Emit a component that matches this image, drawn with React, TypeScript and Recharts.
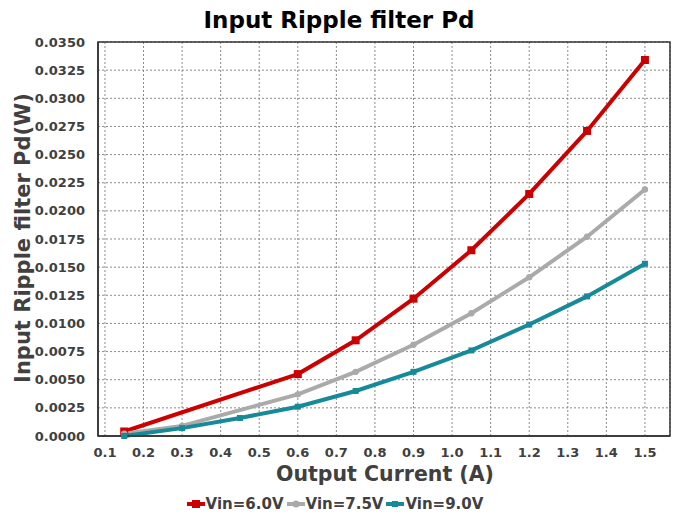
import React from 'react';
import { LineChart, Line, XAxis, YAxis, CartesianGrid, Legend, ReferenceArea } from 'recharts';

const current = [0.15, 0.3, 0.45, 0.6, 0.75, 0.9, 1.05, 1.2, 1.35, 1.5];
const vin60 = [0.0004, null, null, 0.0055, 0.0085, 0.0122, 0.0165, 0.0215, 0.0271, 0.0334];
const vin75 = [0.0002, 0.0009, null, 0.0037, 0.0057, 0.0081, 0.0109, 0.0141, 0.0177, 0.0219];
const vin90 = [0.0, 0.0007, 0.0016, 0.0026, 0.004, 0.0057, 0.0076, 0.0099, 0.0124, 0.0153];
const seriesNames = ['Vin=6.0V', 'Vin=7.5V', 'Vin=9.0V'];
const xTicks = [0.1, 0.2, 0.3, 0.4, 0.5, 0.6, 0.7, 0.8, 0.9, 1.0, 1.1, 1.2, 1.3, 1.4, 1.5];
const yTicks = [0, 0.0025, 0.005, 0.0075, 0.01, 0.0125, 0.015, 0.0175, 0.02, 0.0225, 0.025, 0.0275, 0.03, 0.0325, 0.035];

const title = 'Input Ripple filter Pd';
const xLabel = 'Output Current (A)';
const yLabel = 'Input Ripple filter Pd(W)';

const colors = ['#cc0000', '#aaaaaa', '#168a98'];
const FONT = '"DejaVu Sans", sans-serif';
const TEXT = '#404040';

const data = current.map((c, i) => ({ current: c, v60: vin60[i], v75: vin75[i], v90: vin90[i] }));

const makeDot = (kind: number) => (props: any) => {
  const { cx, cy, value, index } = props;
  if (value === null || value === undefined || cx == null || cy == null) return <g key={`d${kind}-${index}`} />;
  if (kind === 0) return <rect key={`d${kind}-${index}`} x={cx - 4} y={cy - 4} width={8} height={8} fill={colors[0]} />;
  if (kind === 1) return <circle key={`d${kind}-${index}`} cx={cx} cy={cy} r={3.2} fill={colors[1]} />;
  return <rect key={`d${kind}-${index}`} x={cx - 3} y={cy - 3} width={6} height={6} fill={colors[2]} />;
};

const LegendContent = () => (
  <div style={{ display: 'flex', justifyContent: 'center', alignItems: 'center', height: 24, fontFamily: FONT, fontWeight: 'bold', fontSize: 15, color: TEXT }}>
    {seriesNames.map((n, i) => (
      <div key={n} style={{ display: 'flex', alignItems: 'center', marginRight: i < 2 ? 3 : 0 }}>
        <svg width={18} height={12} style={{ marginRight: 1 }}>
          <line x1={0} y1={6} x2={18} y2={6} stroke={colors[i]} strokeWidth={4} />
          {i === 0 && <rect x={5} y={2} width={8} height={8} fill={colors[i]} />}
          {i === 1 && <circle cx={9} cy={6} r={3.5} fill={colors[i]} />}
          {i === 2 && <rect x={6} y={3} width={6} height={6} fill={colors[i]} />}
        </svg>
        <span>{n}</span>
      </div>
    ))}
  </div>
);

const YLabel = (props: any) => {
  const vb = props.viewBox || {};
  const cy = (vb.y ?? 42) + (vb.height ?? 394) / 2 - 1;
  return (
    <text x={30} y={cy} transform={`rotate(-90, 30, ${cy})`} textAnchor="middle" fill={TEXT} fontFamily={FONT} fontWeight="bold" fontSize={21}>
      {yLabel}
    </text>
  );
};

const XLabel = (props: any) => {
  const vb = props.viewBox || {};
  const cx = (vb.x ?? 98) + (vb.width ?? 572) / 2 + 1;
  return (
    <text x={cx} y={481} textAnchor="middle" fill={TEXT} fontFamily={FONT} fontWeight="bold" fontSize={20.5}>
      {xLabel}
    </text>
  );
};

export default function App() {
  return (
    <div style={{ position: 'absolute', left: 0, top: 0, width: 678, height: 516, background: '#fff' }}>
      <div style={{ position: 'absolute', left: 0, top: 7, width: 678, textAlign: 'center', fontFamily: FONT, fontWeight: 'bold', fontSize: 23, lineHeight: 'normal', color: '#000' }}>
        {title}
      </div>
      <LineChart width={678} height={516} data={data} margin={{ top: 42, right: 8, left: 0, bottom: 0 }}>
        <CartesianGrid stroke="#8a8a8a" strokeDasharray="2 2" />
        <XAxis
          dataKey="current"
          type="number"
          domain={[0.082, 1.565]}
          ticks={xTicks}
          tickFormatter={(v: number) => v.toFixed(1)}
          tickLine={false}
          axisLine={{ stroke: '#333', strokeWidth: 1.5 }}
          tick={{ fill: TEXT, fontFamily: FONT, fontWeight: 'bold', fontSize: 13 }}
          tickMargin={6}
          height={56}
          allowDataOverflow
          label={<XLabel />}
        />
        <YAxis
          type="number"
          domain={[0, 0.035]}
          ticks={yTicks}
          tickFormatter={(v: number) => v.toFixed(4)}
          tickLine={false}
          axisLine={{ stroke: '#333', strokeWidth: 1.5 }}
          tick={{ fill: TEXT, fontFamily: FONT, fontWeight: 'bold', fontSize: 13 }}
          tickMargin={7}
          width={98}
          interval={0}
          label={<YLabel />}
        />
        <ReferenceArea x1={0.082} x2={1.565} y1={0} y2={0.035} fill="none" stroke="#333" strokeWidth={1.5} ifOverflow="visible" />
        <Legend verticalAlign="bottom" height={24} content={<LegendContent />} />
        <Line dataKey="v60" name={seriesNames[0]} stroke={colors[0]} strokeWidth={4} connectNulls dot={makeDot(0)} activeDot={false} isAnimationActive={false} />
        <Line dataKey="v75" name={seriesNames[1]} stroke={colors[1]} strokeWidth={4} connectNulls dot={makeDot(1)} activeDot={false} isAnimationActive={false} />
        <Line dataKey="v90" name={seriesNames[2]} stroke={colors[2]} strokeWidth={4} connectNulls dot={makeDot(2)} activeDot={false} isAnimationActive={false} />
      </LineChart>
    </div>
  );
}
